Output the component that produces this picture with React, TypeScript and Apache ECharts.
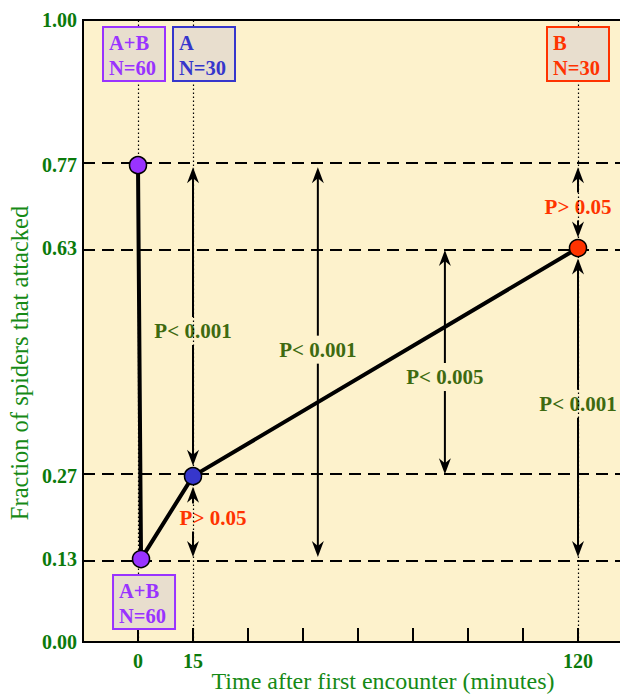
import { useEffect, useRef } from 'react';
import * as echarts from 'echarts';

const SERIF = "'Liberation Serif', 'Times New Roman', 'DejaVu Serif', serif";

// Broken time axis: each labelled time sits on an evenly spaced slot
const timeSlots = [0, 1, 8];
const timeLabels = ['0', '15', '120'];

// Fractions that get a tick label on the y axis
const yTickValues = [0, 8 / 60, 8 / 30, 19 / 30, 23 / 30, 1];
const guideFractions = [23 / 30, 19 / 30, 8 / 30, 8 / 60];

// Observed groups, in the order the connecting line visits them
const groupNames = ['A+B', 'A+B', 'A', 'B'];
const groupN = [60, 60, 30, 30];
const groupSlot = [0, 0.055, 1, 8];
const groupFraction = [23 / 30, 8 / 60, 8 / 30, 19 / 30];

// Pairwise comparisons (double arrows)
const cmpSlot = [1, 1, 3.27, 5.58, 8, 8];
const cmpFrom = [23 / 30, 8 / 30, 23 / 30, 19 / 30, 23 / 30, 19 / 30];
const cmpTo = [8 / 30, 8 / 60, 8 / 60, 8 / 30, 19 / 30, 8 / 60];
const cmpLabel = ['P< 0.001', 'P> 0.05', 'P< 0.001', 'P< 0.005', 'P> 0.05', 'P< 0.001'];
const cmpLabelAt = [0.5, 0.2, 0.47, 0.426, 0.7, 0.383];

// Styling
const groupColor = ['#9933FF', '#9933FF', '#3636CC', '#FF3300'];
const boxPlacement = ['top', 'bottom', 'top', 'top'];
const boxShiftX = [-4, 3, 11, 0];
const cmpLabelShiftX = [0, 20, 0, 0, 0, 0];
const SIG_GREEN = '#3E6A10';
const NS_RED = '#FF3300';
const TICK_GREEN = '#0B7A0B';
const TITLE_GREEN = '#168A16';
const PLOT_BG = '#FDF2CC';
const BOX_BG = '#E8DECE';
const BOX_W = 62;
const BOX_H = 54;
const MARKER = 17;

function markerAt(slot: number, v: number) {
  return groupSlot.some((s, k) => Math.abs(s - slot) < 1e-6 && Math.abs(groupFraction[k] - v) < 1e-6);
}

function arrowHead(x: number, tip: number, dir: number) {
  // dir = -1 points up, +1 points down
  return [
    [x, tip],
    [x - 6, tip - dir * 16],
    [x, tip - dir * 11],
    [x + 6, tip - dir * 16],
  ];
}

export default function App() {
  const ref = useRef<HTMLDivElement>(null);

  useEffect(() => {
    if (!ref.current) return;
    const chart = echarts.init(ref.current, undefined, { renderer: 'svg' });

    const boxFont = `bold 20.5px ${SERIF}`;
    const cmpFont = `bold 21px ${SERIF}`;

    const option: any = {
      animation: false,
      grid: {
        left: 83,
        top: 20,
        right: 7,
        bottom: 52,
        show: true,
        backgroundColor: PLOT_BG,
        borderColor: '#000',
        borderWidth: 2,
      },
      xAxis: {
        type: 'value',
        min: -1,
        max: 9,
        interval: 1,
        axisLine: { show: true, onZero: false, lineStyle: { color: '#000', width: 2 } },
        axisTick: { show: true, inside: true, length: 14, lineStyle: { color: '#000', width: 2 } },
        splitLine: { show: false },
        axisLabel: {
          showMinLabel: false,
          showMaxLabel: false,
          margin: 9,
          color: TICK_GREEN,
          fontFamily: SERIF,
          fontWeight: 'bold',
          fontSize: 20,
          formatter: (v: number) => {
            const k = timeSlots.indexOf(v);
            return k >= 0 ? timeLabels[k] : '';
          },
        },
      },
      yAxis: {
        type: 'value',
        min: 0,
        max: 1,
        axisLine: { show: true, onZero: false, lineStyle: { color: '#000', width: 2 } },
        axisTick: { show: false },
        splitLine: { show: false },
        axisLabel: {
          customValues: yTickValues,
          margin: 6,
          color: TICK_GREEN,
          fontFamily: SERIF,
          fontWeight: 'bold',
          fontSize: 20,
          formatter: (v: number) => v.toFixed(2),
        },
      },
      graphic: [
        {
          type: 'text',
          x: 19,
          y: 363,
          rotation: Math.PI / 2,
          style: {
            text: 'Fraction of spiders that attacked',
            fill: TITLE_GREEN,
            font: `24.5px ${SERIF}`,
            align: 'center',
            verticalAlign: 'middle',
          },
        },
        {
          type: 'text',
          x: 383,
          y: 681,
          style: {
            text: 'Time after first encounter (minutes)',
            fill: TITLE_GREEN,
            font: `24px ${SERIF}`,
            align: 'center',
            verticalAlign: 'middle',
          },
        },
      ],
      series: [
        {
          // reference guides: dashed levels and dotted time markers
          type: 'line',
          data: [],
          z: 1,
          silent: true,
          markLine: {
            silent: true,
            symbol: ['none', 'none'],
            label: { show: false },
            data: [
              ...guideFractions.map((v) => ({
                yAxis: v,
                lineStyle: { color: '#000', width: 2, type: [12, 7] },
              })),
              ...timeSlots.map((s) => ({
                xAxis: s,
                lineStyle: { color: '#000', width: 1.2, type: [1.5, 2.5] },
              })),
            ],
          },
        },
        {
          type: 'custom',
          z: 3,
          silent: true,
          data: cmpSlot.map((s, i) => [s, cmpFrom[i], cmpTo[i], cmpLabelAt[i]]),
          renderItem: (params: any, api: any) => {
            const i = params.dataIndex;
            const slot = api.value(0);
            const a = api.value(1);
            const b = api.value(2);
            const hi = Math.max(a, b);
            const lo = Math.min(a, b);
            const [px, yHi] = api.coord([slot, hi]);
            const yLo = api.coord([slot, lo])[1];
            const yLab = api.coord([slot, api.value(3)])[1];
            const tipTop = yHi + (markerAt(slot, hi) ? MARKER / 2 + 2 : 2);
            const tipBot = yLo - (markerAt(slot, lo) ? MARKER / 2 + 2 : 2);
            const gap = 14;
            const sig = cmpLabel[i].startsWith('P<');
            const lineStyle = { stroke: '#000', lineWidth: 2 };
            return {
              type: 'group',
              children: [
                { type: 'line', shape: { x1: px, y1: tipTop + 8, x2: px, y2: yLab - gap }, style: lineStyle },
                { type: 'line', shape: { x1: px, y1: yLab + gap, x2: px, y2: tipBot - 8 }, style: lineStyle },
                { type: 'polygon', shape: { points: arrowHead(px, tipTop, -1) }, style: { fill: '#000' } },
                { type: 'polygon', shape: { points: arrowHead(px, tipBot, 1) }, style: { fill: '#000' } },
                {
                  type: 'text',
                  x: px + cmpLabelShiftX[i],
                  y: yLab,
                  style: {
                    text: cmpLabel[i],
                    fill: sig ? SIG_GREEN : NS_RED,
                    font: cmpFont,
                    align: 'center',
                    verticalAlign: 'middle',
                  },
                },
              ],
            };
          },
        },
        {
          type: 'line',
          z: 5,
          silent: true,
          data: groupSlot.map((s, i) => ({
            value: [s, groupFraction[i]],
            itemStyle: { color: groupColor[i], borderColor: '#000', borderWidth: 1.5 },
          })),
          symbol: 'circle',
          symbolSize: MARKER,
          showAllSymbol: true,
          lineStyle: { color: '#000', width: 4 },
        },
        {
          type: 'custom',
          z: 6,
          silent: true,
          data: groupSlot.map((s, i) => [s, groupFraction[i]]),
          renderItem: (params: any, api: any) => {
            const i = params.dataIndex;
            const [px, py] = api.coord([api.value(0), api.value(1)]);
            const top = boxPlacement[i] === 'top' ? api.coord([0, 1])[1] + 7 : py + 16;
            const left = px + boxShiftX[i] - BOX_W / 2;
            const c = groupColor[i];
            return {
              type: 'group',
              children: [
                {
                  type: 'rect',
                  shape: { x: left, y: top, width: BOX_W, height: BOX_H },
                  style: { fill: BOX_BG, stroke: c, lineWidth: 2 },
                },
                {
                  type: 'text',
                  x: left + 6,
                  y: top + BOX_H / 2 + 1,
                  style: {
                    text: `${groupNames[i]}\nN=${groupN[i]}`,
                    fill: c,
                    font: boxFont,
                    lineHeight: 25,
                    align: 'left',
                    verticalAlign: 'middle',
                  },
                },
              ],
            };
          },
        },
      ],
    };

    chart.setOption(option);
    return () => chart.dispose();
  }, []);

  // The plot runs on past the right edge of the 620px frame, so the chart
  // canvas is a little wider and the frame clips it.
  return (
    <div
      style={{ position: 'absolute', left: 0, top: 0, width: 620, height: 694, overflow: 'hidden', background: '#fff' }}
    >
      <div ref={ref} style={{ width: 640, height: 694 }} />
    </div>
  );
}
